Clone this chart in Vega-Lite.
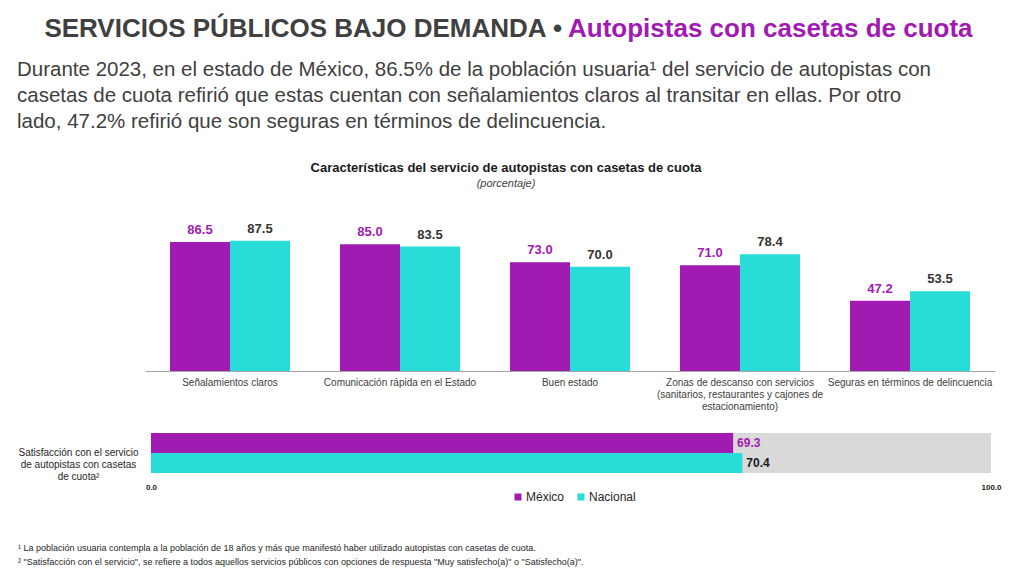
{
  "$schema": "https://vega.github.io/schema/vega-lite/v6.json",
  "padding": {"left": 17, "top": 16, "right": 5, "bottom": 0},
  "background": "white",
  "config": {
    "font": "Liberation Sans",
    "view": {"stroke": null}
  },
  "datasets": {
    "caract": [
      {"categoria": "Señalamientos claros", "serie": "México", "valor": 86.5},
      {"categoria": "Señalamientos claros", "serie": "Nacional", "valor": 87.5},
      {"categoria": "Comunicación rápida en el Estado", "serie": "México", "valor": 85.0},
      {"categoria": "Comunicación rápida en el Estado", "serie": "Nacional", "valor": 83.5},
      {"categoria": "Buen estado", "serie": "México", "valor": 73.0},
      {"categoria": "Buen estado", "serie": "Nacional", "valor": 70.0},
      {"categoria": "Zonas de descanso con servicios (sanitarios, restaurantes y cajones de estacionamiento)", "serie": "México", "valor": 71.0},
      {"categoria": "Zonas de descanso con servicios (sanitarios, restaurantes y cajones de estacionamiento)", "serie": "Nacional", "valor": 78.4},
      {"categoria": "Seguras en términos de delincuencia", "serie": "México", "valor": 47.2},
      {"categoria": "Seguras en términos de delincuencia", "serie": "Nacional", "valor": 53.5}
    ],
    "satisf": [
      {"item": "Satisfacción con el servicio de autopistas con casetas de cuota²", "serie": "México", "valor": 69.3},
      {"item": "Satisfacción con el servicio de autopistas con casetas de cuota²", "serie": "Nacional", "valor": 70.4}
    ],
    "total": [
      {"item": "Satisfacción con el servicio de autopistas con casetas de cuota²", "total": 100}
    ]
  },
  "spacing": 0,
  "resolve": {"scale": {"color": "independent"}, "legend": {"color": "independent"}},
  "vconcat": [
    {
      "spacing": 6,
      "hconcat": [
        {
          "width": 417, "height": 13,
          "data": {"values": [{"t": " "}]},
          "mark": {"type": "text", "opacity": 0},
          "encoding": {"text": {"field": "t", "type": "nominal"}},
          "title": {"text": "SERVICIOS PÚBLICOS BAJO DEMANDA •", "anchor": "end", "fontSize": 26, "fontWeight": "bold", "color": "#404040", "offset": 4}
        },
        {
          "width": 400, "height": 13,
          "data": {"values": [{"t": " "}]},
          "mark": {"type": "text", "opacity": 0},
          "encoding": {"text": {"field": "t", "type": "nominal"}},
          "title": {"text": "Autopistas con casetas de cuota", "anchor": "start", "fontSize": 26, "fontWeight": "bold", "color": "#A11AB2", "offset": 4}
        }
      ]
    },
    {
      "title": {
        "text": [
          "Durante 2023, en el estado de México, 86.5% de la población usuaria¹ del servicio de autopistas con",
          "casetas de cuota refirió que estas cuentan con señalamientos claros al transitar en ellas. Por otro",
          "lado, 47.2% refirió que son seguras en términos de delincuencia."
        ],
        "anchor": "start", "offset": 30,
        "fontSize": 20.5, "fontWeight": "normal", "color": "#404040", "lineHeight": 26
      },
      "spacing": 22,
      "resolve": {"scale": {"color": "independent"}, "legend": {"color": "independent"}},
      "vconcat": [
        {
          "width": 850, "height": 149,
          "data": {"name": "caract"},
          "title": {
            "text": "Características del servicio de autopistas con casetas de cuota",
            "subtitle": "(porcentaje)",
            "anchor": "middle", "frame": "bounds", "offset": 33,
            "fontSize": 13, "fontWeight": "bold", "color": "#1A1A1A",
            "subtitleFontSize": 11, "subtitleFontStyle": "italic", "subtitleColor": "#404040", "subtitlePadding": 3
          },
          "encoding": {
            "x": {
              "field": "categoria", "type": "nominal", "sort": null,
              "scale": {"paddingInner": 0.294, "paddingOuter": 0.147},
              "axis": {
                "title": null, "labelAngle": 0, "labelFontSize": 10, "labelColor": "#404040",
                "labelPadding": 6, "ticks": false, "domainColor": "#A6A6A6",
                "labelLimit": 300, "labelLineHeight": 12, "labelBaseline": "top",
                "labelExpr": "indexof(datum.value, 'Zonas') === 0 ? ['Zonas de descanso con servicios', '(sanitarios, restaurantes y cajones de', 'estacionamiento)'] : datum.label"
              }
            },
            "xOffset": {"field": "serie", "type": "nominal", "sort": ["México", "Nacional"], "scale": {"paddingInner": 0, "paddingOuter": 0}},
            "y": {
              "field": "valor", "type": "quantitative", "scale": {"domain": [0, 100], "nice": false},
              "axis": {"title": null, "labels": false, "ticks": false, "domain": false, "grid": false, "minExtent": 128, "maxExtent": 128}
            }
          },
          "layer": [
            {
              "mark": {"type": "bar"},
              "encoding": {
                "color": {"field": "serie", "type": "nominal", "scale": {"domain": ["México", "Nacional"], "range": ["#A11AB2", "#28DCD8"]}, "legend": null}
              }
            },
            {
              "mark": {"type": "text", "baseline": "alphabetic", "dy": -8, "fontSize": 13, "fontWeight": "bold"},
              "encoding": {
                "text": {"field": "valor", "type": "quantitative", "format": ".1f"},
                "color": {"condition": {"test": "datum.serie === 'México'", "value": "#A11AB2"}, "value": "#333333"}
              }
            }
          ]
        },
        {
          "width": 846, "height": 40,
          "title": {
            "text": [
              "¹ La población usuaria contempla a la población de 18 años y más que manifestó haber utilizado autopistas con casetas de cuota.",
              "² \"Satisfacción con el servicio\", se refiere a todos aquellos servicios públicos con opciones de respuesta \"Muy satisfecho(a)\" o \"Satisfecho(a)\"."
            ],
            "orient": "bottom", "anchor": "start", "offset": 41,
            "fontSize": 9, "fontWeight": "normal", "color": "#262626", "lineHeight": 14
          },
          "layer": [
            {
              "data": {"name": "total"},
              "mark": {"type": "bar", "color": "#D9D9D9"},
              "encoding": {
                "y": {
                  "field": "item", "type": "nominal",
                  "scale": {"paddingInner": 0, "paddingOuter": 0},
                  "axis": {
                    "title": null, "ticks": false, "domain": false,
                    "labelAlign": "center", "labelPadding": 67, "labelFontSize": 10, "labelColor": "#262626",
                    "labelLineHeight": 12, "labelLimit": 300,
                    "labelExpr": "['Satisfacción con el servicio', 'de autopistas con casetas', 'de cuota²']"
                  }
                },
                "x": {
                  "field": "total", "type": "quantitative",
                  "scale": {"domain": [-0.714, 100], "nice": false},
                  "axis": {
                    "title": null, "values": [0, 100], "format": ".1f", "labelFontSize": 8, "labelFontWeight": "bold",
                    "labelColor": "#1A1A1A", "domain": false, "ticks": false, "grid": false, "labelPadding": 10, "labelFlush": false
                  }
                }
              }
            },
            {
              "data": {"name": "satisf"},
              "mark": {"type": "bar"},
              "encoding": {
                "y": {"field": "item", "type": "nominal"},
                "x": {"field": "valor", "type": "quantitative"},
                "yOffset": {"field": "serie", "type": "nominal", "sort": ["México", "Nacional"], "scale": {"paddingInner": 0, "paddingOuter": 0}},
                "color": {
                  "field": "serie", "type": "nominal",
                  "scale": {"domain": ["México", "Nacional"], "range": ["#A11AB2", "#28DCD8"]},
                  "legend": {
                    "title": null, "orient": "none", "legendX": 367, "legendY": 58, "direction": "horizontal", "symbolType": "square",
                    "symbolSize": 49, "symbolStrokeWidth": 0, "labelFontSize": 12, "labelColor": "#262626",
                    "labelOffset": 2, "columnPadding": 10
                  }
                }
              }
            },
            {
              "data": {"name": "satisf"},
              "mark": {"type": "text", "align": "left", "dx": 4, "fontSize": 12, "fontWeight": "bold"},
              "encoding": {
                "y": {"field": "item", "type": "nominal"},
                "x": {"field": "valor", "type": "quantitative"},
                "yOffset": {"field": "serie", "type": "nominal", "sort": ["México", "Nacional"]},
                "text": {"field": "valor", "type": "quantitative", "format": ".1f"},
                "color": {"condition": {"test": "datum.serie === 'México'", "value": "#A11AB2"}, "value": "#1A1A1A"}
              }
            }
          ]
        }
      ]
    }
  ]
}
